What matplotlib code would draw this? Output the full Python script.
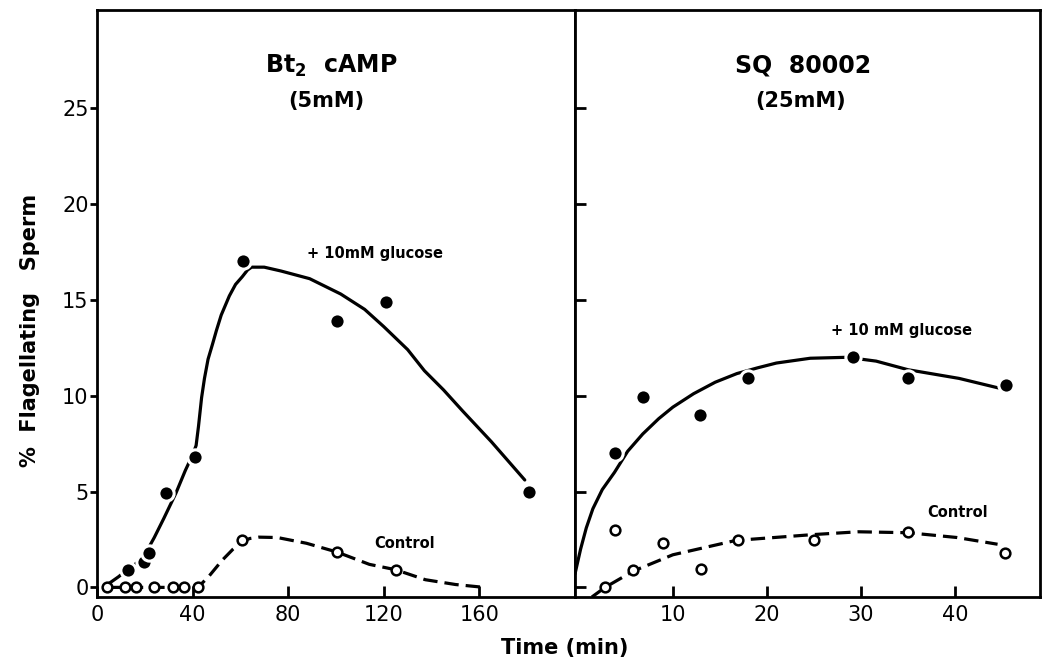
import matplotlib.pyplot as plt
import numpy as np

# ---- datos ----
# panel izquierdo: Bt2 cAMP (5mM), tiempo 0-200 min
camp_glu_x = [12.9, 19.8, 22.0, 28.9, 41.2, 61.1, 100.5, 120.8, 180.6]
camp_glu_y = [0.9, 1.3, 1.8, 4.9, 6.8, 17.0, 13.9, 14.9, 5.0]
camp_ctl_x = [4.4, 11.6, 16.5, 23.8, 31.7, 36.4, 42.3, 60.8, 100.5, 125.0]
camp_ctl_y = [0.0, 0.0, 0.0, 0.0, 0.0, 0.0, 0.0, 2.45, 1.84, 0.92]

# curvas dibujadas a mano
camp_glu_curva_x = [5, 9, 13, 17, 20, 24, 28, 33, 37, 40, 41.5, 42.5, 43.8, 45, 46.5, 48.4,
                    50, 52, 55.4, 58, 60.8, 63, 64.7, 70, 77, 89, 102, 112, 120, 130, 137,
                    145, 153, 165, 179]
camp_glu_curva_y = [0.2, 0.55, 0.95, 1.3, 1.7, 2.6, 3.6, 4.9, 6.1, 6.9, 7.4, 8.4, 9.9, 10.9,
                    11.9, 12.7, 13.4, 14.2, 15.2, 15.8, 16.2, 16.55, 16.7, 16.7, 16.5, 16.1,
                    15.3, 14.5, 13.6, 12.4, 11.3, 10.3, 9.2, 7.6, 5.6]
camp_ctl_curva_x = [4.4, 11.6, 16.5, 23.8, 31.7, 36.4, 42.3, 47, 52.3, 57, 60.8, 64, 67.7,
                    75.5, 87.7, 100.5, 114, 125, 137.4, 150, 162]
camp_ctl_curva_y = [0.0, 0.0, 0.0, 0.0, 0.0, 0.0, 0.0, 0.6, 1.4, 2.0, 2.4, 2.55, 2.62,
                    2.6, 2.3, 1.84, 1.2, 0.92, 0.4, 0.15, 0.0]

# panel derecho: SQ 80002 (25mM), tiempo 0-49 min
sq_glu_x = [3.8, 6.8, 12.9, 18.0, 29.1, 35.0, 45.4]
sq_glu_y = [7.0, 9.95, 9.0, 10.9, 12.0, 10.9, 10.55]
sq_ctl_x = [2.8, 3.8, 5.8, 8.9, 13.0, 16.9, 25.0, 35.0, 45.3]
sq_ctl_y = [0.0, 3.0, 0.9, 2.3, 0.95, 2.45, 2.45, 2.9, 1.8]

sq_glu_curva_x = [-0.4, 0.2, 0.8, 1.5, 2.5, 3.8, 5.2, 6.8, 8.5, 10, 12.2, 14.5, 16.8, 19,
                  21, 24.6, 28.5, 31.6, 35, 40.4, 44.6]
sq_glu_curva_y = [0.7, 2.0, 3.1, 4.1, 5.1, 6.0, 7.1, 8.0, 8.8, 9.4, 10.1, 10.7, 11.15, 11.45,
                  11.7, 11.95, 12.0, 11.8, 11.35, 10.9, 10.4]
sq_ctl_curva_x = [1.4, 2.8, 5.8, 10, 16.7, 24.8, 29.7, 35, 40.2, 44.5]
sq_ctl_curva_y = [-0.5, 0.0, 0.85, 1.7, 2.45, 2.75, 2.9, 2.85, 2.6, 2.25]

ticks_y = [0, 5, 10, 15, 20, 25]
ticks_x_izq = [0, 40, 80, 120, 160]
ticks_x_der = [10, 20, 30, 40]

plt.rcParams['font.family'] = ['DejaVu Sans']

fig = plt.figure(figsize=(10.42, 6.6), dpi=100)
ax1 = fig.add_axes([0.093, 0.0955, 0.4588, 0.889])
ax2 = fig.add_axes([0.5518, 0.0955, 0.4462, 0.889])

lw = 2.3
rayas = (0, (4.5, 2.2))


def dibujar(ax, gx, gy, cx, cy, gcx, gcy, ccx, ccy):
    ax.plot(gcx, gcy, color='black', lw=lw, solid_capstyle='round', zorder=2)
    ax.plot(ccx, ccy, color='black', lw=lw, linestyle=rayas, zorder=2)
    # borde blanco para cortar la curva cerca de cada punto, como en el original
    ax.plot(gx, gy, 'o', markerfacecolor='black', markeredgecolor='white',
            markersize=11, markeredgewidth=2.2, zorder=4)
    ax.plot(cx, cy, 'o', markerfacecolor='white', markeredgecolor='black',
            markersize=7, markeredgewidth=1.8, zorder=4)


dibujar(ax1, camp_glu_x, camp_glu_y, camp_ctl_x, camp_ctl_y,
        camp_glu_curva_x, camp_glu_curva_y, camp_ctl_curva_x, camp_ctl_curva_y)
dibujar(ax2, sq_glu_x, sq_glu_y, sq_ctl_x, sq_ctl_y,
        sq_glu_curva_x, sq_glu_curva_y, sq_ctl_curva_x, sq_ctl_curva_y)

ax1.set_xlim(0, 200)
ax2.set_xlim(-0.4, 49)
for ax in (ax1, ax2):
    ax.set_ylim(-0.5, 30.1)
    ax.set_yticks(ticks_y)
    for s in ax.spines.values():
        s.set_linewidth(2)

ax1.set_xticks(ticks_x_izq)
ax1.set_xticklabels([str(t) for t in ticks_x_izq], fontsize=15, fontweight='medium')
ax1.set_yticklabels([str(t) for t in ticks_y], fontsize=15, fontweight='medium')
ax1.tick_params(axis='x', direction='in', length=8, width=2, pad=6)
ax1.tick_params(axis='y', direction='out', length=5, width=2, pad=1)

ax2.set_xticks(ticks_x_der)
ax2.set_xticklabels([str(t) for t in ticks_x_der], fontsize=15, fontweight='medium')
ax2.set_yticklabels([])
ax2.tick_params(axis='x', direction='in', length=8, width=2, pad=6)
ax2.tick_params(axis='y', direction='in', length=8, width=2)

# titulos de cada panel
ax1.text(0.49, 0.905, r'Bt$_\mathbf{2}$  cAMP', transform=ax1.transAxes, ha='center',
         va='center', fontsize=17, fontweight='bold')
ax1.text(0.48, 0.845, '(5mM)', transform=ax1.transAxes, ha='center', va='center',
         fontsize=15, fontweight='bold')
ax2.text(0.49, 0.905, 'SQ  80002', transform=ax2.transAxes, ha='center', va='center',
         fontsize=17, fontweight='bold')
ax2.text(0.485, 0.845, '(25mM)', transform=ax2.transAxes, ha='center', va='center',
         fontsize=15, fontweight='bold')

# etiquetas de las curvas
ax1.text(88, 17.4, '+ 10mM glucose', fontsize=10.5, fontweight='bold', va='center')
ax1.text(116, 2.3, 'Control', fontsize=10.5, fontweight='bold', va='center')
ax2.text(26.8, 13.4, '+ 10 mM glucose', fontsize=10.5, fontweight='bold', va='center')
ax2.text(37.0, 3.9, 'Control', fontsize=10.5, fontweight='bold', va='center')

fig.text(0.029, 0.50, '%  Flagellating   Sperm', rotation=90, ha='center', va='center',
         fontsize=15, fontweight='bold')
fig.text(0.542, 0.018, 'Time (min)', ha='center', va='center', fontsize=15, fontweight='bold')

fig.savefig('out.png', dpi=100)
